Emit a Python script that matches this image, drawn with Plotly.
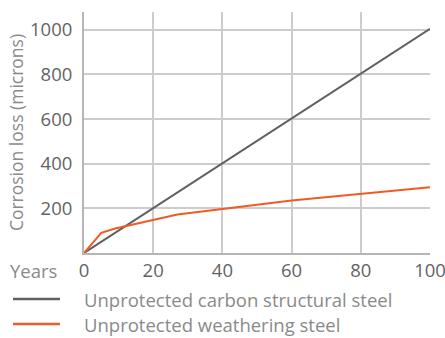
import plotly.graph_objects as go

years_carbon = [0, 100]
loss_carbon = [0, 1005]
years_weather = [0, 5, 9, 27, 40, 60, 100]
loss_weather = [0, 90, 110, 173, 197, 235, 295]
x_ticks = [0, 20, 40, 60, 80, 100]
y_ticks = [200, 400, 600, 800, 1000]
names = ["Unprotected carbon structural steel", "Unprotected weathering steel"]
colors = ["#606060", "#f05a24"]

FONT = "Open Sans"
TICK = "#636363"
LIGHT = "#8a8a8a"
PW, PH = 346, 241

fig = go.Figure()
fig.add_trace(go.Scatter(x=years_carbon, y=loss_carbon, mode="lines",
                         line=dict(color=colors[0], width=2), name=names[0]))
fig.add_trace(go.Scatter(x=years_weather, y=loss_weather, mode="lines",
                         line=dict(color=colors[1], width=2), name=names[1]))

fig.update_layout(
    width=445, height=338,
    margin=dict(l=84, r=15, t=12, b=85, autoexpand=False),
    paper_bgcolor="white", plot_bgcolor="white",
    showlegend=False,
    font=dict(family=FONT, color=TICK, size=18),
    xaxis=dict(range=[0, 100.001], tickvals=x_ticks, showgrid=True,
               gridcolor="#cccccc", gridwidth=1.5, zeroline=False,
               showline=True, linecolor="#b5b5b5", linewidth=2,
               ticks="", tickfont=dict(size=18.5, color=TICK),
               automargin=False, ticklabeloverflow="allow"),
    yaxis=dict(range=[0, 1080], tickvals=y_ticks, showgrid=True,
               gridcolor="#cccccc", gridwidth=1.5, zeroline=False,
               showline=True, linecolor="#b5b5b5", linewidth=2,
               ticks="", ticklabelstandoff=6, tickfont=dict(size=18.5, color=TICK),
               automargin=False,
               title=dict(text="Corrosion loss (microns)", standoff=2,
                          font=dict(size=17.5, color=LIGHT))),
)

fig.add_annotation(text="Years", xref="paper", yref="paper", x=(8 - 84) / PW,
                   y=-17 / PH, xanchor="left", yanchor="middle", showarrow=False,
                   font=dict(size=18.5, color=LIGHT))

legend_y = [-46 / PH, -71 / PH]
for i in range(2):
    fig.add_shape(type="line", xref="paper", yref="paper",
                  x0=(13 - 84) / PW, x1=(60 - 84) / PW, y0=legend_y[i], y1=legend_y[i],
                  line=dict(color=colors[i], width=2.5))
    fig.add_annotation(text=names[i], xref="paper", yref="paper",
                       x=(82 - 84) / PW, y=legend_y[i], xanchor="left", yanchor="middle",
                       showarrow=False, font=dict(size=18.5, color=LIGHT))

fig.write_html("out.html", config={"displayModeBar": False},
               post_script="document.body.style.margin='0';")
